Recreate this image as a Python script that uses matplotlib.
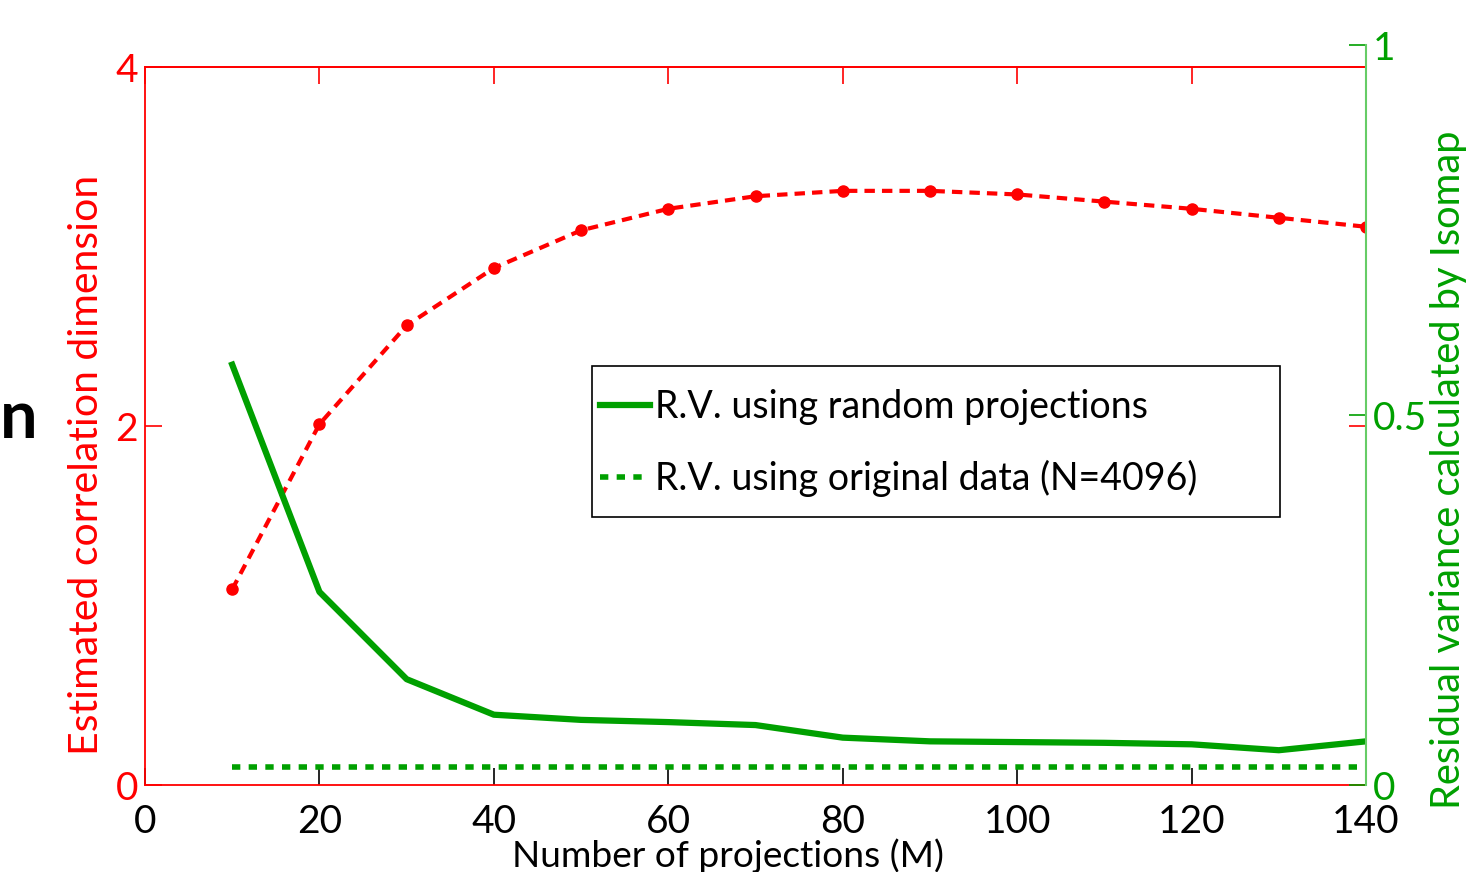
import numpy as np
import matplotlib.pyplot as plt
from matplotlib.patches import Rectangle

plt.rcParams['font.family'] = ['Lato', 'DejaVu Sans']

# projections M
m = [10, 20, 30, 40, 50, 60, 70, 80, 90, 100, 110, 120, 130, 140]
# estimated correlation dimension (left axis)
corr_dim = [1.09, 2.01, 2.56, 2.88, 3.09, 3.21, 3.28, 3.31, 3.31, 3.29, 3.25, 3.21, 3.16, 3.11]
# residual variance (right axis)
rv_random = [0.568, 0.261, 0.143, 0.095, 0.088, 0.085, 0.081, 0.064, 0.059, 0.058, 0.057, 0.055, 0.047, 0.059]
rv_original = [0.024] * len(m)

xticks = [0, 20, 40, 60, 80, 100, 120, 140]

red = '#ff0000'
green = '#00a000'
fs = 28

fig = plt.figure(figsize=(14.68, 8.72), dpi=100)
x0, x1 = 145 / 1468, 1366 / 1468
y0 = 1 - 785 / 872
ax = fig.add_axes([x0, y0, x1 - x0, (785 - 67) / 872])
ax2 = fig.add_axes([x0, y0, x1 - x0, (785 - 45) / 872])
ax2.patch.set_visible(False)

# left axis
ax.plot(m, corr_dim, color=red, ls='--', lw=3, marker='o', ms=8, dashes=(2.5, 1.7))
ax.set_xlim(0, 140)
ax.set_ylim(0, 4)
ax.set_xticks(xticks)
ax.set_yticks([0, 2, 4])
ax.tick_params(axis='x', direction='in', length=12, width=1.2, colors='black',
               labelsize=fs, pad=14)
ax.tick_params(axis='y', direction='in', length=12, width=1.2, colors=red,
               labelsize=fs, pad=5, right=True)
for s in ['left', 'top', 'bottom']:
    ax.spines[s].set_color(red)
    ax.spines[s].set_linewidth(1.3)
ax.spines['right'].set_visible(False)
ax.set_ylabel('Estimated correlation dimension', color=red, fontsize=29.5)
ax.yaxis.set_label_coords((105 - 145) / 1221, (785 - 465) / 718)
ax.set_xlabel('Number of projections (M)', fontsize=26.7)
ax.xaxis.set_label_coords((728 - 145) / 1221, (785 - 838) / 718)

# red ticks along the top edge
top = ax.secondary_xaxis('top')
top.set_xticks(xticks)
top.tick_params(direction='in', length=12, width=1.2, colors=red, labeltop=False)
top.spines['top'].set_color(red)
top.spines['top'].set_linewidth(1.3)

# right axis
l1, = ax2.plot(m, rv_random, color=green, lw=4.5, label='R.V. using random projections')
l2, = ax2.plot(m, rv_original, color=green, lw=4, ls='--', dashes=(1.5, 1.5),
               label='R.V. using original data (N=4096)')
ax2.set_xlim(0, 140)
ax2.set_ylim(0, 1)
ax2.set_xticks([])
ax2.set_yticks([0, 0.5, 1])
ax2.set_yticklabels(['0', '0.5', '1'])
ax2.yaxis.tick_right()
ax2.yaxis.set_label_position('right')
ax2.tick_params(axis='y', direction='in', length=12, width=1.2, colors=green,
                labelsize=fs, pad=5)
for s in ['left', 'top', 'bottom']:
    ax2.spines[s].set_visible(False)
ax2.spines['right'].set_color('#66cc66')
ax2.spines['right'].set_linewidth(1.5)
ax2.set_ylabel('Residual variance calculated by Isomap', color=green, fontsize=28.7,
               rotation=90)
ax2.yaxis.set_label_coords(1.0 + (1430 - 1366) / 1221, (785 - 470) / 740)

# legend box drawn separately so the entries can sit like the original
def px(xp, yp):
    return (xp - 145) / 1221, (785 - yp) / 740

bx, by = px(592, 517)
box = Rectangle((bx, by), (1280 - 592) / 1221, (517 - 366) / 740, transform=ax2.transAxes,
                facecolor='white', edgecolor='black', lw=1.2, zorder=4)
ax2.add_patch(box)
leg = ax2.legend(handles=[l1, l2], loc='upper left', bbox_to_anchor=px(600, 389),
                 fontsize=27, frameon=False, handlelength=1.33, handletextpad=0.13,
                 borderpad=0, labelspacing=0.94, borderaxespad=0)
leg.set_zorder(5)

fig.text(0.0, 0.52, 'n', fontsize=48, fontweight='bold', color='black', va='center')

fig.savefig('out.png', dpi=100)
